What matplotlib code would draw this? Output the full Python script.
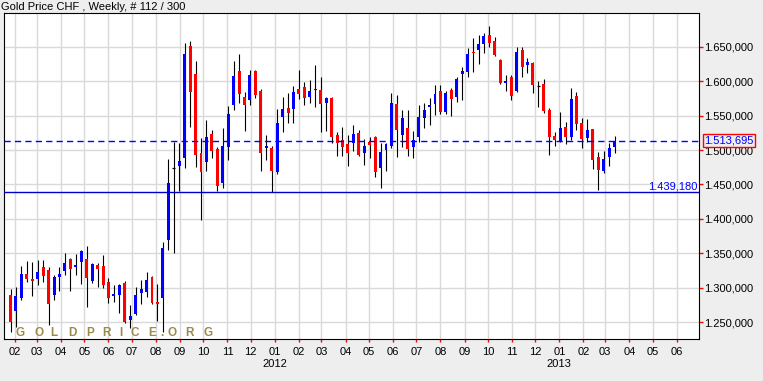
import numpy as np
import pandas as pd
import matplotlib
matplotlib.use('Agg')
from matplotlib import pyplot as plt
import matplotlib.dates as mdates

plt.rcParams['font.family'] = ['Liberation Sans', 'DejaVu Sans']

# weekly OHLC, gold in CHF
dates = pd.date_range('2011-01-26', periods=112, freq='7D')

opens = [1289.6, 1266.8, 1285.3, 1320.1, 1313.3, 1312.8, 1330.3, 1325.9, 1289.6, 1315.7,
         1324.5, 1341.9, 1330.3, 1338.0, 1341.9, 1309.9, 1333.2, 1331.7, 1308.5, 1288.2,
         1289.6, 1307.0, 1253.8, 1262.0, 1293.0, 1294.0, 1315.7, 1279.5, 1285.7, 1369.4,
         1473.9, 1477.3, 1488.9, 1651.0, 1610.4, 1495.3, 1483.1, 1523.3, 1501.5, 1452.6,
         1504.9, 1565.4, 1614.7, 1576.6, 1572.6, 1614.7, 1585.7, 1503.4, 1503.4, 1467.7,
         1547.5, 1560.6, 1560.0, 1588.2, 1591.5, 1577.4, 1587.2, 1587.2, 1568.7, 1575.5,
         1521.4, 1514.6, 1508.8, 1509.8, 1524.7, 1496.2, 1511.7, 1519.4, 1473.5, 1500.1,
         1505.9, 1566.8, 1521.8, 1532.0, 1504.9, 1518.5, 1546.5, 1561.8, 1566.8, 1585.7,
         1554.8, 1587.2, 1577.4, 1609.9, 1613.7, 1642.3, 1645.2, 1653.5, 1667.0, 1658.3,
         1630.7, 1596.9, 1605.6, 1586.1, 1645.2, 1623.9, 1625.9, 1592.5, 1595.9, 1558.1,
         1520.4, 1513.6, 1533.2, 1518.5, 1578.4, 1539.3, 1517.1, 1530.1, 1489.5, 1470.0,
         1489.5, 1504.9]
highs = [1298.3, 1300.8, 1331.7, 1339.0, 1337.5, 1340.4, 1340.4, 1329.8, 1318.6, 1329.8,
         1351.0, 1342.9, 1349.1, 1355.4, 1360.7, 1336.5, 1336.0, 1347.2, 1313.9, 1304.1,
         1305.6, 1309.9, 1275.5, 1301.7, 1311.8, 1323.4, 1317.2, 1305.6, 1367.0, 1487.0,
         1512.1, 1510.2, 1654.9, 1658.7, 1629.2, 1517.1, 1543.6, 1529.1, 1504.4, 1531.6,
         1563.9, 1629.2, 1639.4, 1584.7, 1616.2, 1616.2, 1588.2, 1521.8, 1505.9, 1559.1,
         1576.6, 1583.2, 1593.0, 1616.2, 1599.2, 1601.7, 1623.4, 1606.5, 1577.4, 1577.4,
         1526.6, 1533.9, 1521.4, 1536.4, 1529.1, 1515.6, 1518.5, 1520.5, 1509.8, 1509.8,
         1582.4, 1579.9, 1558.1, 1558.1, 1527.6, 1565.4, 1568.7, 1575.1, 1594.4, 1594.4,
         1585.7, 1589.6, 1605.6, 1621.0, 1647.7, 1662.2, 1667.0, 1669.5, 1680.0, 1664.5,
         1632.0, 1608.9, 1608.9, 1649.1, 1649.1, 1633.2, 1628.2, 1600.7, 1603.1, 1560.6,
         1526.6, 1555.7, 1541.1, 1589.6, 1584.7, 1546.1, 1544.6, 1530.5, 1497.6, 1499.1,
         1509.8, 1520.4]
lows = [1236.3, 1243.6, 1282.4, 1308.9, 1288.2, 1304.6, 1308.9, 1246.1, 1282.4, 1295.9,
        1318.6, 1295.4, 1318.6, 1305.6, 1272.6, 1306.6, 1301.7, 1300.2, 1278.4, 1279.5,
        1263.9, 1249.4, 1242.2, 1260.6, 1276.6, 1287.2, 1276.6, 1252.3, 1236.3, 1355.4,
        1350.1, 1440.0, 1474.4, 1533.9, 1475.8, 1398.5, 1470.0, 1488.9, 1441.0, 1444.5,
        1485.6, 1558.1, 1567.9, 1528.1, 1565.4, 1576.0, 1470.0, 1485.6, 1439.18, 1465.2,
        1526.6, 1538.8, 1538.8, 1574.5, 1565.4, 1567.9, 1562.9, 1526.6, 1527.6, 1510.7,
        1491.4, 1491.4, 1476.9, 1499.1, 1491.4, 1478.3, 1488.9, 1461.3, 1444.5, 1470.0,
        1502.5, 1490.4, 1504.9, 1491.4, 1488.0, 1511.7, 1532.7, 1536.4, 1550.9, 1552.3,
        1552.3, 1549.9, 1569.3, 1572.6, 1606.5, 1612.8, 1624.9, 1641.3, 1650.0, 1636.5,
        1595.4, 1586.1, 1572.6, 1584.7, 1606.5, 1612.3, 1583.2, 1561.8, 1553.3, 1492.8,
        1505.2, 1511.0, 1508.1, 1515.3, 1529.5, 1502.5, 1512.1, 1472.1, 1442.0, 1466.3,
        1476.9, 1496.2]
closes = [1250.9, 1288.2, 1320.1, 1312.8, 1310.4, 1323.0, 1317.6, 1276.6, 1315.7, 1320.1,
          1336.1, 1327.4, 1333.2, 1353.9, 1314.7, 1334.6, 1327.4, 1304.1, 1285.7, 1291.1,
          1304.1, 1250.4, 1259.6, 1289.6, 1298.8, 1311.8, 1277.6, 1276.6, 1357.8, 1452.2,
          1473.9, 1484.1, 1639.4, 1584.7, 1493.2, 1468.6, 1518.5, 1499.1, 1448.3, 1505.9,
          1552.3, 1607.5, 1581.3, 1565.8, 1608.9, 1579.9, 1496.2, 1505.9, 1470.0, 1538.8,
          1559.1, 1554.2, 1584.7, 1581.3, 1575.1, 1585.7, 1588.6, 1566.4, 1575.5, 1519.4,
          1509.8, 1504.4, 1496.2, 1523.3, 1493.2, 1505.9, 1507.3, 1468.6, 1497.2, 1508.4,
          1567.9, 1528.7, 1546.5, 1501.5, 1514.6, 1547.5, 1558.1, 1565.4, 1580.9, 1555.7,
          1582.4, 1574.5, 1603.1, 1614.7, 1639.8, 1640.9, 1653.9, 1665.5, 1655.8, 1638.0,
          1597.8, 1600.2, 1578.4, 1642.3, 1621.0, 1627.8, 1593.7, 1592.5, 1557.1, 1518.5,
          1514.6, 1531.7, 1519.4, 1574.1, 1538.2, 1515.6, 1529.1, 1485.6, 1471.0, 1487.0,
          1502.5, 1513.695]

last_price = 1513.695
min_price = 1439.18
price_ticks = [1250, 1300, 1350, 1400, 1450, 1500, 1550, 1600, 1650]


def euro(v):
    # 1650.0 -> "1.650,000"
    return f'{v:,.3f}'.replace(',', '#').replace('.', ',').replace('#', '.')


o = np.array(opens)
h = np.array(highs)
l = np.array(lows)
c = np.array(closes)
x = mdates.date2num(dates)

fig = plt.figure(figsize=(7.63, 3.81), dpi=100, facecolor='#eeeeee')
ax = fig.add_axes([4.3 / 763, 1 - 339.3 / 381, 695 / 763, 326 / 381])
ax.set_facecolor('white')

ax.set_xlim(mdates.date2num(pd.Timestamp('2011-01-18')), mdates.date2num(pd.Timestamp('2013-06-30')))
ax.set_ylim(1225.3, 1698.5)

# grid
ax.grid(True, color='#d9d9d9', lw=1.0, zorder=0)
ax.set_axisbelow(True)

# candles
ax.vlines(x, l, h, color='black', lw=0.8, zorder=2)
up = c > o
down = c < o
flat = c == o
w = 3.8
ax.bar(x[up], c[up] - o[up], bottom=o[up], width=w, color='#0000ff', lw=0, zorder=3)
ax.bar(x[down], o[down] - c[down], bottom=c[down], width=w, color='#ff0000', lw=0, zorder=3)
ax.hlines(o[flat], x[flat] - w / 2, x[flat] + w / 2, color='black', lw=0.9, zorder=3)

# current price and minimum lines
ax.axhline(last_price, color='#0000ff', lw=1.0, ls=(0, (4.5, 3)), zorder=4)
ax.axhline(min_price, color='#0000c8', lw=1.0, zorder=4)
ax.text(0.998, min_price + 0.6, euro(min_price), transform=ax.get_yaxis_transform(),
        ha='right', va='bottom', color='#0000ff', fontsize=8, zorder=5)
ax.text(1.0075, last_price, euro(last_price), transform=ax.get_yaxis_transform(),
        ha='left', va='center', color='#0000ff', fontsize=8, zorder=6, clip_on=False,
        bbox=dict(boxstyle='square,pad=0.12', fc='#eeeeee', ec='red', lw=1.0))

# x axis: months
ax.xaxis.set_major_locator(mdates.MonthLocator())
ax.xaxis.set_major_formatter(mdates.DateFormatter('%m'))
ax.tick_params(axis='x', direction='out', length=2.2, width=1, color='red',
               labelcolor='black', labelsize=8, pad=3)
for yr in [2012, 2013]:
    ax.text(mdates.date2num(pd.Timestamp(f'{yr}-01-01')), -0.077, str(yr),
            transform=ax.get_xaxis_transform(), ha='center', va='center', fontsize=8)

# y axis on the right
ax.yaxis.tick_right()
ax.set_yticks(price_ticks)
ax.set_yticklabels([euro(v) for v in price_ticks])
ax.tick_params(axis='y', direction='out', length=3, width=1, color='red',
               labelcolor='black', labelsize=8, pad=0.8, left=False)

for s in ax.spines.values():
    s.set_color('black')
    s.set_linewidth(0.8)

# watermark
wm_chars = list('GOLDPRICE.ORG')
wm_x = [20, 38.8, 53.7, 72.2, 89.7, 106.7, 121, 134.3, 151.7, 161.7, 172, 189.2, 208.3]
for ch, px in zip(wm_chars, wm_x):
    ax.text((px - 4.3) / 695, (339.3 - 333.5) / 326, ch, transform=ax.transAxes,
            ha='center', va='center', fontsize=8.5, fontweight='bold', color='#9a8c48', zorder=1)

fig.text(1 / 763, 1 - 6.5 / 381, 'Gold Price CHF , Weekly, # 112 / 300',
         ha='left', va='center', fontsize=8)

fig.savefig('out.png', dpi=100, facecolor=fig.get_facecolor())
